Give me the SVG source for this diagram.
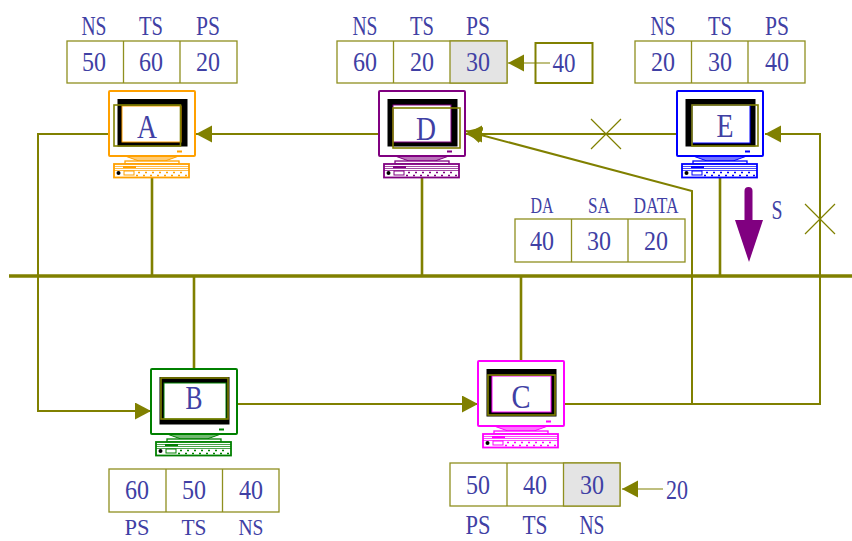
<svg xmlns="http://www.w3.org/2000/svg" xmlns:xlink="http://www.w3.org/1999/xlink" width="852" height="541" viewBox="0 0 852 541">
<style>
text{font-family:"Liberation Serif","Times New Roman",serif;fill:#4040a4;text-anchor:middle;font-size:28px}
.w{stroke:#808000;stroke-width:2;fill:none}
.d{stroke:#808000;stroke-width:2.600;fill:none}
.t{stroke:#808000;stroke-width:1.200;fill:none}
.bus{stroke:#808000;stroke-width:3.400;fill:none}
.cell{stroke:#8f8f1f;stroke-width:1.300;fill:#fff}
.g{fill:#e4e4e4}
.ol{stroke:#808000;stroke-width:1.600;fill:none}
.big{font-size:34px}
.sm{font-size:24px}
.sc{fill:#fff;stroke:currentColor;stroke-width:1}
</style>
<defs>
<marker id="ah" markerUnits="userSpaceOnUse" markerWidth="17" markerHeight="18" refX="16" refY="8.500" orient="auto"><path d="M0 0L16 8.500L0 17z" fill="#808000"/></marker>
<symbol id="pc" width="90" height="90" viewBox="0 0 90 90" overflow="visible">
<rect x="0" y="0" width="86" height="65" rx="1" fill="#fff" stroke="currentColor" stroke-width="2"/>
<path d="M8.500 8H78.500V55.500H8.500z" fill="#000"/>
<rect x="68" y="59.500" width="5" height="2" fill="currentColor"/>
<path d="M16 65L30 70H56L70 65z" fill="currentColor" fill-opacity=".55" stroke="currentColor" stroke-width="1"/>
<rect x="16" y="70" width="54" height="3" fill="#fff" stroke="currentColor" stroke-width="1.300"/>
<rect x="5" y="73" width="75" height="13.500" fill="#fff" stroke="currentColor" stroke-width="1.800"/>
<path d="M5 75.500H80M5 77.500H80M5 79.500H80" stroke="currentColor" stroke-width="1" opacity=".7"/>
<rect x="14" y="75" width="13" height="2" fill="currentColor"/>
<rect x="15" y="80" width="10" height="4" fill="#fff" stroke="currentColor" stroke-width="1"/>
<circle cx="9.500" cy="82" r="2" fill="#000"/>
<path d="M29 81.500h2M36 81.500h2M43 81.500h2M50 81.500h2M57 81.500h2M64 81.500h2M71 81.500h2M27 84.500h2M34 84.500h2M41 84.500h2M48 84.500h2M55 84.500h2M62 84.500h2M69 84.500h2M76 84.500h2" stroke="currentColor" stroke-width="1.400"/>
</symbol>
</defs>
<g id="connectors">
<path class="bus" d="M9 276H852"/>
<path class="d" d="M152 177V276M422 177V276M720 177V276M194 276V369M521 276V361"/>
<path class="w" d="M379 134H196" marker-end="url(#ah)"/>
<path class="w" d="M677 134H466" marker-end="url(#ah)"/>
<path class="w" d="M109 134H38V411H151" marker-end="url(#ah)"/>
<path class="w" d="M237 404H478" marker-end="url(#ah)"/>
<path class="w" d="M565 404H820V134H765" marker-end="url(#ah)"/>
<path class="w" d="M692 404V191L466 131" marker-end="url(#ah)"/>
<path class="t" d="M591 119L621 149M621 119L591 149"/>
<path class="t" d="M805 204L835 234M835 204L805 234"/>
<path class="t" d="M550 63H508" marker-end="url(#ah)"/>
<path class="t" d="M663 489H622" marker-end="url(#ah)"/>
<path d="M748.500 191V222" stroke="#800080" stroke-width="8" stroke-linecap="round" fill="none"/>
<path d="M735 220H763L749 262z" fill="#800080"/>
</g>
<g id="node-a" color="#ffa000"><use xlink:href="#pc" href="#pc" x="109" y="91"/><rect class="sc" x="122" y="106" width="59" height="36"/><rect class="ol" x="114" y="105" width="66.500" height="41"/><text class="big" x="147" y="138" textLength="20" lengthAdjust="spacingAndGlyphs">A</text></g>
<g id="node-d" color="#800080"><use xlink:href="#pc" href="#pc" x="379" y="91"/><rect class="sc" x="393" y="105" width="58" height="37"/><rect class="ol" x="393" y="108" width="67" height="40"/><text class="big" x="426" y="140" textLength="20" lengthAdjust="spacingAndGlyphs">D</text></g>
<g id="node-e" color="#0000ff"><use xlink:href="#pc" href="#pc" x="677" y="91"/><rect class="sc" x="692" y="105" width="58" height="38"/><rect class="ol" x="692" y="105" width="66" height="41"/><text class="big" x="725" y="137" textLength="17" lengthAdjust="spacingAndGlyphs">E</text></g>
<g id="node-b" color="#008000"><use xlink:href="#pc" href="#pc" x="151" y="369"/><rect class="sc" x="164" y="383" width="62" height="36"/><rect class="ol" x="161" y="378" width="67" height="41"/><text class="big" x="194" y="409" textLength="17" lengthAdjust="spacingAndGlyphs">B</text></g>
<g id="node-c" color="#ff00ff"><use xlink:href="#pc" href="#pc" x="478" y="361"/><rect class="sc" x="492" y="376" width="59" height="36"/><rect class="ol" x="488" y="375" width="67" height="40"/><text class="big" x="521" y="408" textLength="19" lengthAdjust="spacingAndGlyphs">C</text></g>
<g id="table-a"><rect class="cell" x="67" y="41" width="170" height="42"/><path class="cell" d="M123.500 41V83M180 41V83"/>
<text x="94" y="35" textLength="25" lengthAdjust="spacingAndGlyphs">NS</text><text x="151" y="35" textLength="24" lengthAdjust="spacingAndGlyphs">TS</text><text x="208" y="35" textLength="24" lengthAdjust="spacingAndGlyphs">PS</text>
<text x="94" y="71" textLength="24" lengthAdjust="spacingAndGlyphs">50</text><text x="151" y="71" textLength="24" lengthAdjust="spacingAndGlyphs">60</text><text x="208" y="71" textLength="24" lengthAdjust="spacingAndGlyphs">20</text></g>
<g id="table-d"><rect class="cell" x="337" y="41" width="170" height="42"/><rect class="cell g" x="450" y="41" width="57" height="42"/><path class="cell" d="M393.500 41V83"/>
<text x="365" y="35" textLength="25" lengthAdjust="spacingAndGlyphs">NS</text><text x="422" y="35" textLength="24" lengthAdjust="spacingAndGlyphs">TS</text><text x="478" y="35" textLength="24" lengthAdjust="spacingAndGlyphs">PS</text>
<text x="365" y="71" textLength="24" lengthAdjust="spacingAndGlyphs">60</text><text x="422" y="71" textLength="24" lengthAdjust="spacingAndGlyphs">20</text><text x="478" y="71" textLength="24" lengthAdjust="spacingAndGlyphs">30</text></g>
<g id="table-e"><rect class="cell" x="635" y="41" width="170" height="42"/><path class="cell" d="M691.500 41V83M748 41V83"/>
<text x="663" y="35" textLength="25" lengthAdjust="spacingAndGlyphs">NS</text><text x="720" y="35" textLength="24" lengthAdjust="spacingAndGlyphs">TS</text><text x="777" y="35" textLength="24" lengthAdjust="spacingAndGlyphs">PS</text>
<text x="663" y="71" textLength="24" lengthAdjust="spacingAndGlyphs">20</text><text x="720" y="71" textLength="24" lengthAdjust="spacingAndGlyphs">30</text><text x="777" y="71" textLength="24" lengthAdjust="spacingAndGlyphs">40</text></g>
<g id="box-40"><rect x="535.500" y="43" width="57" height="40" fill="none" stroke="#808000" stroke-width="2"/><text x="564" y="72" textLength="23" lengthAdjust="spacingAndGlyphs">40</text></g>
<g id="table-packet"><rect class="cell" x="515" y="219" width="170" height="43"/><path class="cell" d="M571.500 219V262M628 219V262"/>
<text class="sm" x="542" y="213" textLength="23" lengthAdjust="spacingAndGlyphs">DA</text><text class="sm" x="599" y="213" textLength="22" lengthAdjust="spacingAndGlyphs">SA</text><text class="sm" x="656" y="213" textLength="45" lengthAdjust="spacingAndGlyphs">DATA</text>
<text x="542" y="250" textLength="24" lengthAdjust="spacingAndGlyphs">40</text><text x="599" y="250" textLength="24" lengthAdjust="spacingAndGlyphs">30</text><text x="656" y="250" textLength="24" lengthAdjust="spacingAndGlyphs">20</text></g>
<text x="777" y="219" textLength="11" lengthAdjust="spacingAndGlyphs">S</text>
<g id="table-b"><rect class="cell" x="109" y="469" width="170" height="43"/><path class="cell" d="M166 469V512M222.500 469V512"/>
<text x="137" y="499" textLength="24" lengthAdjust="spacingAndGlyphs">60</text><text x="194" y="499" textLength="24" lengthAdjust="spacingAndGlyphs">50</text><text x="251" y="499" textLength="24" lengthAdjust="spacingAndGlyphs">40</text>
<text class="sm" x="137" y="535" textLength="25" lengthAdjust="spacingAndGlyphs">PS</text><text class="sm" x="194" y="535" textLength="25" lengthAdjust="spacingAndGlyphs">TS</text><text class="sm" x="251" y="535" textLength="25" lengthAdjust="spacingAndGlyphs">NS</text></g>
<g id="table-c"><rect class="cell" x="450" y="463" width="170" height="43"/><rect class="cell g" x="563.500" y="463" width="56.500" height="43"/><path class="cell" d="M507 463V506"/>
<text x="478" y="494" textLength="24" lengthAdjust="spacingAndGlyphs">50</text><text x="535" y="494" textLength="24" lengthAdjust="spacingAndGlyphs">40</text><text x="592" y="494" textLength="24" lengthAdjust="spacingAndGlyphs">30</text>
<text x="478" y="534" textLength="25" lengthAdjust="spacingAndGlyphs">PS</text><text x="535" y="534" textLength="25" lengthAdjust="spacingAndGlyphs">TS</text><text x="592" y="534" textLength="25" lengthAdjust="spacingAndGlyphs">NS</text></g>
<text x="677" y="499" textLength="22" lengthAdjust="spacingAndGlyphs">20</text>
</svg>
